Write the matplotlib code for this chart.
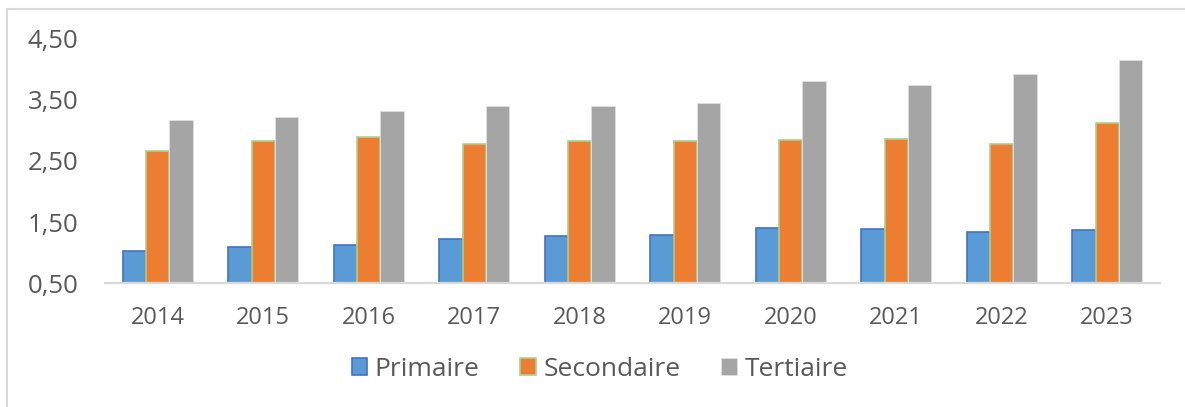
import numpy as np
import matplotlib.pyplot as plt
from matplotlib.lines import Line2D
from matplotlib.ticker import FuncFormatter

years = ["2014", "2015", "2016", "2017", "2018", "2019", "2020", "2021", "2022", "2023"]
primaire = [1.02, 1.10, 1.13, 1.22, 1.28, 1.29, 1.40, 1.38, 1.33, 1.37]
secondaire = [2.66, 2.83, 2.89, 2.77, 2.83, 2.83, 2.84, 2.86, 2.77, 3.11]
tertiaire = [3.17, 3.22, 3.32, 3.39, 3.39, 3.44, 3.80, 3.73, 3.92, 4.15]

plt.rcParams['font.family'] = ['Open Sans', 'DejaVu Sans']
txt = '#595959'

fig = plt.figure(figsize=(11.85, 4.07), dpi=100)
ax = fig.add_axes([0.0886, 0.3039, 0.8903, 0.602])

x = np.arange(len(years))
w = 0.2225
ax.bar(x - w, primaire, w, color='#5B9BD5', edgecolor='#4472C4', linewidth=1.2, label='Primaire')
ax.bar(x, secondaire, w, color='#ED7D31', edgecolor='#A9D18E', linewidth=1.2, label='Secondaire')
ax.bar(x + w, tertiaire, w, color='#A5A5A5', edgecolor='#E0E0E0', linewidth=0.6, label='Tertiaire')

ax.set_xlim(-0.5, len(years) - 0.5)
ax.set_ylim(0.5, 4.5)
ax.set_yticks([0.5, 1.5, 2.5, 3.5, 4.5])
ax.yaxis.set_major_formatter(FuncFormatter(lambda v, p: f"{v:.2f}".replace('.', ',')))
ax.set_xticks(x)
ax.set_xticklabels(years)

for s in ['top', 'right', 'left']:
    ax.spines[s].set_visible(False)
ax.spines['bottom'].set_color('#D9D9D9')
ax.spines['bottom'].set_linewidth(1.6)
ax.tick_params(axis='y', length=0, pad=19, labelsize=18.5, labelcolor=txt)
ax.tick_params(axis='x', length=0, pad=16, labelsize=17, labelcolor=txt)

fig.legend(loc='center', bbox_to_anchor=(0.506, 0.092), ncol=3, frameon=False,
           fontsize=19, labelcolor=txt, handlelength=0.6, handleheight=0.6,
           handletextpad=0.27, columnspacing=1.55)

# chart border
fig.add_artist(Line2D([0.0062, 1.0], [0.978, 0.978], transform=fig.transFigure, color='#D9D9D9', lw=1.5))
fig.add_artist(Line2D([0.0062, 0.0062], [0.0, 0.978], transform=fig.transFigure, color='#D9D9D9', lw=1.5))

fig.savefig('out.png', dpi=100)
